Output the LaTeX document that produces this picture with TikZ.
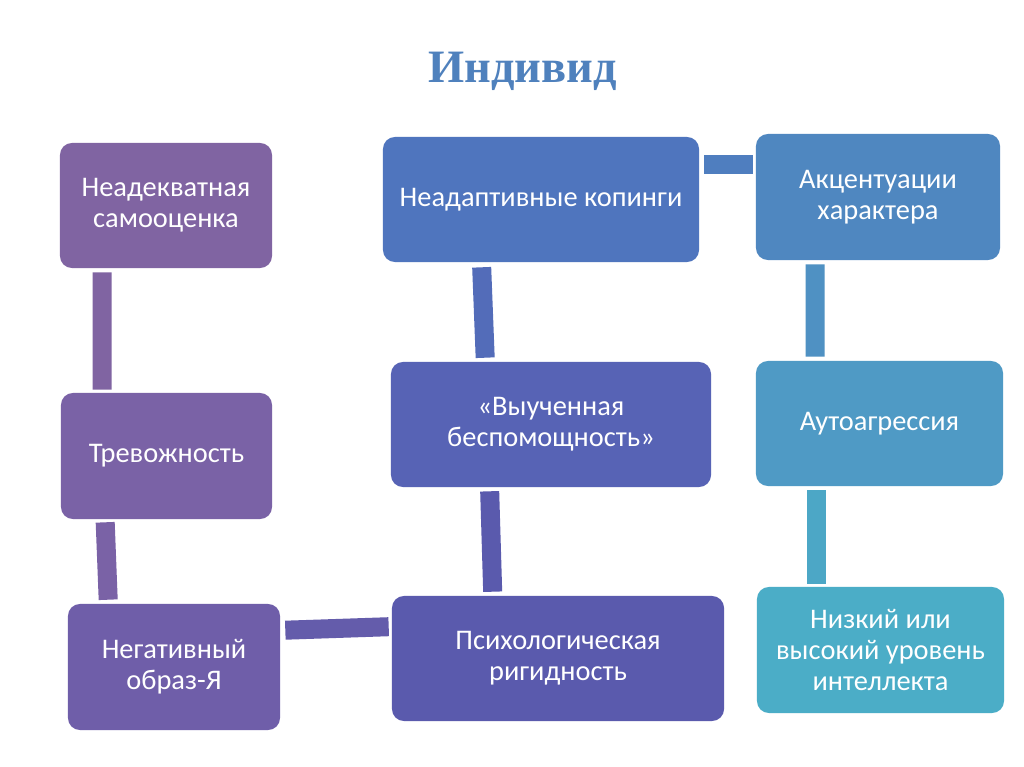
\documentclass[tikz,border=0pt]{standalone}
\usepackage{fontspec}
\setmainfont{Carlito}
\newfontfamily\titlefont{Liberation Serif}
\usepackage{xcolor}
\usepackage{tikz}
\usetikzlibrary{positioning,calc}

\definecolor{shadeA}{HTML}{8064A2}
\definecolor{shadeB}{HTML}{7A62A6}
\definecolor{shadeC}{HTML}{6F5EA9}
\definecolor{shadeD}{HTML}{5A5AAD}
\definecolor{shadeE}{HTML}{5763B5}
\definecolor{shadeF}{HTML}{4F75BE}
\definecolor{shadeG}{HTML}{4F87C0}
\definecolor{shadeH}{HTML}{4F9AC5}
\definecolor{shadeI}{HTML}{4BADC7}
\definecolor{titleblue}{HTML}{4F81BD}

\begin{document}
\begin{tikzpicture}[
    x=0.025cm,
    y=-0.025cm,
    box/.style={rounded corners=0.3cm, inner sep=0pt, text=white, align=center,
        font=\fontsize{20.2}{22.3}\selectfont},
    bar/.style={line width=0.475cm},
    heading/.style={font=\titlefont\bfseries\fontsize{33}{36}\selectfont, text=titleblue}
]

% Page frame: pixel grid, y downwards
\fill[white] (0,0) rectangle (1024,767);
\useasboundingbox (0,0) rectangle (1024,767);

\node[heading, anchor=base] (title) at (522.5,83) {Индивид};

% Left column
\node[box, fill=shadeA, minimum width=5.3cm, minimum height=3.125cm] (selfest) at (166,205.5)
    {Неадекватная\\самооценка};
\node[box, fill=shadeB, minimum width=5.275cm, minimum height=3.15cm] (anxiety) at (166.5,456)
    {Тревожность};
\node[box, fill=shadeC, minimum width=5.3cm, minimum height=3.15cm] (negself) at (174,667)
    {Негативный\\образ-Я};

% Middle column
\node[box, fill=shadeF, minimum width=7.9cm, minimum height=3.125cm] (coping) at (541,199.5)
    {Неадаптивные копинги};
\node[box, fill=shadeE, minimum width=8.0cm, minimum height=3.125cm] (helpless) at (551,424.5)
    {«Выученная\\беспомощность»};
\node[box, fill=shadeD, minimum width=8.3cm, minimum height=3.125cm] (rigid) at (558,658.5)
    {Психологическая\\ригидность};

% Right column
\node[box, fill=shadeG, minimum width=6.1cm, minimum height=3.15cm] (accent) at (878,197)
    {Акцентуации\\характера};
\node[box, fill=shadeH, minimum width=6.175cm, minimum height=3.125cm] (autoagr) at (879.5,423.5)
    {Аутоагрессия};
\node[box, fill=shadeI, minimum width=6.175cm, minimum height=3.15cm] (intellect) at (880.5,650)
    {Низкий или\\высокий уровень\\интеллекта};

% Connecting bars
\draw[bar, shadeA] ($(selfest.south west)+(42.5,4)$) -- ($(anxiety.north west)+(41.5,-3)$);
\draw[bar, shadeB] ($(anxiety.south west)+(44.5,3)$) -- ($(negself.north west)+(40.5,-4)$);
\draw[bar, shadeC!50!shadeD] ($(negself.north east)+(5,26.5)$) -- ($(rigid.north west)+(-3,31)$);
\draw[bar, shadeD] ($(rigid.north west)+(101,-4)$) -- ($(helpless.south west)+(99,4)$);
\draw[bar, shadeE!50!shadeF] ($(helpless.north west)+(94.5,-4)$) -- ($(coping.south west)+(99,5)$);
\draw[bar, shadeF!50!shadeG] ($(coping.north east)+(5,28)$) -- ($(accent.north west)+(-3,31)$);
\draw[bar, shadeG!50!shadeH] ($(accent.south west)+(59.5,4)$) -- ($(autoagr.north west)+(59.5,-4)$);
\draw[bar, shadeH!30!shadeI] ($(autoagr.south west)+(60.5,4)$) -- ($(intellect.north west)+(59.5,-3)$);

\end{tikzpicture}
\end{document}
